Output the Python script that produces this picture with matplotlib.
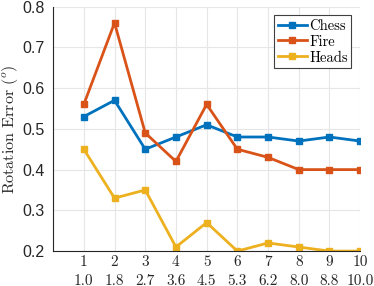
import matplotlib
matplotlib.use("Agg")
import matplotlib.pyplot as plt

x = [1, 2, 3, 4, 5, 6, 7, 8, 9, 10]
x2_labels = ["1.0", "1.8", "2.7", "3.6", "4.5", "5.3", "6.2", "8.0", "8.8", "10.0"]
chess = [0.53, 0.57, 0.45, 0.48, 0.51, 0.48, 0.48, 0.47, 0.48, 0.47]
fire = [0.56, 0.76, 0.49, 0.42, 0.56, 0.45, 0.43, 0.40, 0.40, 0.40]
heads = [0.45, 0.33, 0.35, 0.21, 0.27, 0.20, 0.22, 0.21, 0.20, 0.20]
series = [("Chess", chess, "#0072BD"), ("Fire", fire, "#D95319"), ("Heads", heads, "#EDB120")]
yticks = [0.2, 0.3, 0.4, 0.5, 0.6, 0.7, 0.8]

plt.rcParams['mathtext.fontset'] = 'cm'
fig = plt.figure(figsize=(3.74, 2.86), dpi=100)
ax = fig.add_axes([0.142, 0.122, 0.821, 0.855])

for name, vals, c in series:
    ax.plot(x, vals, color=c, lw=2.0, marker='s', ms=4.5, label=name)

ax.set_xlim(0, 10)
ax.set_ylim(0.2, 0.8)
ax.set_xticks(x)
ax.set_xticklabels([f"{a}\n{b}" for a, b in zip(x, x2_labels)], family='cmr10', fontsize=11, linespacing=1.45)
ax.set_yticks(yticks)
ax.set_yticklabels([f"{v:.1f}" for v in yticks], family='Liberation Sans', fontsize=11.5)
ax.tick_params(length=0, colors='#262626')
ax.tick_params(axis='x', pad=3)
ax.tick_params(axis='y', pad=6)
ax.grid(True, color='#e6e6e6', lw=0.8)
ax.set_axisbelow(True)
for s in ['top', 'right']:
    ax.spines[s].set_visible(False)
for s in ['left', 'bottom']:
    ax.spines[s].set_color('#262626')
    ax.spines[s].set_linewidth(0.8)
fig.text(10 / 374, 1 - 129 / 286, r"Rotation Error ($^o$)", family='cmr10', fontsize=11.5,
         rotation=90, ha='center', va='center', color='#262626')

leg = ax.legend(loc='upper right', prop={'family': 'cmr10', 'size': 10.5}, fancybox=False,
                edgecolor='#404040', framealpha=1, handlelength=2.0, borderpad=0.25,
                labelspacing=0.15, handletextpad=0.15, borderaxespad=0.6)
leg.get_frame().set_linewidth(0.8)

fig.savefig("out.png", dpi=100)
